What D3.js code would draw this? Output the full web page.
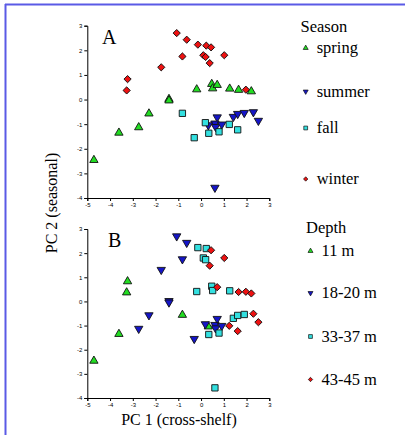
<!DOCTYPE html>
<html>
<head>
<meta charset="utf-8">
<script src="https://cdn.jsdelivr.net/npm/d3@7"></script>
<style>
	body { margin: 0; background: #fff; }
	svg { display: block; }
	.tick text { font-family: "Liberation Sans", Arial, sans-serif; font-size: 6px; fill: #000; }
	.lbl { font-family: "Liberation Serif", "Times New Roman", serif; fill: #000; }
</style>
</head>
<body>
<svg id="chart" width="405" height="435"></svg>
<script>
	'use strict';

	// categories
	var seasons = ['spring', 'summer', 'fall', 'winter'];
	var depths = ['11 m', '18-20 m', '33-37 m', '43-45 m'];
	var xTicks = [-5, -4, -3, -2, -1, 0, 1, 2, 3];
	var yTicks = [-4, -3, -2, -1, 0, 1, 2, 3];

	// PCA scores per sample (same samples in both panels)
	var pc1 = [
		-1.07, -0.63, -0.14, 0.23, 0.44, -0.82, 0.10, 0.20, 0.38, 1.02, -1.75, -3.23, -3.27, 1.97,
		-4.71, -3.61, -2.74, -2.29, -1.41, -1.41, -0.19, 0.47, 0.51, 0.71, 1.26, 1.65, 2.21,
		0.61, 0.71, 0.61, 0.64, 0.91, 0.32, 1.42, 1.61, 1.90, 2.30, 2.52,
		-0.82, -0.30, 0.19, 0.34, 0.79, 1.24, 1.61
	];
	var pc2 = [
		2.70, 2.43, 2.23, 2.19, 2.12, 1.75, 1.80, 1.73, 1.48, 1.80, 1.31, 0.83, 0.37, 0.40,
		-2.46, -1.35, -1.13, -0.57, 0.02, -0.04, 0.41, 0.63, 0.45, 0.59, 0.44, 0.39, 0.33,
		-3.58, -0.72, -0.97, -1.11, -1.01, -1.04, -0.70, -0.58, -0.54, -0.51, -0.86,
		-0.56, -1.55, -0.94, -1.37, -1.31, -1.01, -1.23
	];
	// index into seasons / depths
	var seasonOf = [
		3, 3, 3, 3, 3, 3, 3, 3, 3, 3, 3, 3, 3, 3,
		0, 0, 0, 0, 0, 0, 0, 0, 0, 0, 0, 0, 0,
		1, 1, 1, 1, 1, 1, 1, 1, 1, 1, 1,
		2, 2, 2, 2, 2, 2, 2
	];
	var depthOf = [
		1, 1, 2, 2, 3, 1, 2, 2, 3, 3, 1, 0, 0, 3,
		0, 0, 1, 1, 1, 1, 2, 2, 2, 3, 2, 3, 3,
		2, 1, 1, 1, 1, 0, 2, 2, 2, 3, 3,
		0, 1, 1, 2, 2, 3, 3
	];

	var colors = ['#22dd22', '#1515c8', '#33e0e0', '#ee1111'];

	var svg = d3.select('#chart');

	// frame (top and left edge only)
	svg.append('line').attr('x1', 5).attr('x2', 405).attr('y1', 4.5).attr('y2', 4.5)
		.attr('stroke', '#5a5ae6').attr('stroke-width', 2);
	svg.append('line').attr('x1', 5.5).attr('x2', 5.5).attr('y1', 4).attr('y2', 435)
		.attr('stroke', '#5a5ae6').attr('stroke-width', 2);

	var data = pc1.map(function(v, i) {
		return {x: v, y: pc2[i], season: seasonOf[i], depth: depthOf[i]};
	});

	function markerPath(k, s) {
		if (k === 0 || k === 1) return d3.symbol().type(d3.symbolTriangle).size(30 * s * s)();
		if (k === 2) return d3.symbol().type(d3.symbolSquare).size(40 * s * s)();
		return d3.symbol().type(d3.symbolSquare).size(26 * s * s)();
	}
	function markerRot(k) {
		return k === 1 ? ' rotate(180)' : (k === 3 ? ' rotate(45)' : '');
	}
	var fmt = function(d) { return String(d); };

	function drawPanel(opts) {
		var x = d3.scaleLinear().domain([-5, 3]).range([87.3, 269.3]);
		var y = d3.scaleLinear().domain([-4, 3]).range([opts.bottom, opts.top]);

		var g = svg.append('g');

		g.append('g')
			.attr('transform', 'translate(0,' + opts.bottom + ')')
			.call(d3.axisBottom(x).tickValues(xTicks).tickFormat(fmt).tickSize(3).tickPadding(2))
			.call(function(a) { a.select('.domain').attr('stroke', '#000'); });

		g.append('g')
			.attr('transform', 'translate(87.3,0)')
			.call(d3.axisLeft(y).tickValues(yTicks).tickFormat(fmt).tickSize(3).tickPadding(2))
			.call(function(a) { a.select('.domain').attr('stroke', '#000'); });

		g.append('text').attr('class', 'lbl')
			.attr('x', opts.letterX).attr('y', y(3) + 18)
			.style('font-size', '20px')
			.text(opts.letter);

		g.selectAll('path.pt')
			.data(data)
			.enter().append('path')
			.attr('class', 'pt')
			.attr('d', function(d) { return markerPath(d[opts.key], 1); })
			.attr('transform', function(d) {
				return 'translate(' + x(d.x) + ',' + y(d.y) + ')' + markerRot(d[opts.key]);
			})
			.attr('fill', function(d) { return colors[d[opts.key]]; })
			.attr('stroke', '#111')
			.attr('stroke-width', 0.9);

		// legend
		var lg = svg.append('g');
		lg.append('text').attr('class', 'lbl')
			.attr('x', opts.legX).attr('y', opts.legTitleY)
			.style('font-size', '16.5px')
			.text(opts.title);
		opts.names.forEach(function(name, k) {
			var by = opts.legY[k];
			lg.append('path')
				.attr('d', markerPath(k, 0.6))
				.attr('transform', 'translate(' + opts.markX + ',' + (by - 5) + ')' + markerRot(k))
				.attr('fill', colors[k])
				.attr('stroke', '#111')
				.attr('stroke-width', 0.7);
			lg.append('text').attr('class', 'lbl')
				.attr('x', opts.markX + 11).attr('y', by)
				.style('font-size', '16.5px')
				.text(name);
		});
	}

	drawPanel({
		top: 25.7, bottom: 198, letter: 'A', letterX: 102, key: 'season',
		title: 'Season', names: seasons, legX: 300.5, legTitleY: 32,
		markX: 305.7, legY: [53, 96.5, 133, 184]
	});
	drawPanel({
		top: 229, bottom: 398, letter: 'B', letterX: 108, key: 'depth',
		title: 'Depth', names: depths, legX: 306, legTitleY: 233,
		markX: 310.5, legY: [256, 298, 341.5, 384.5]
	});

	// axis titles
	svg.append('text').attr('class', 'lbl')
		.attr('transform', 'translate(57,203) rotate(-90)')
		.attr('text-anchor', 'middle')
		.style('font-size', '16px')
		.text('PC 2 (seasonal)');

	svg.append('text').attr('class', 'lbl')
		.attr('x', 179).attr('y', 425)
		.attr('text-anchor', 'middle')
		.style('font-size', '16px')
		.text('PC 1 (cross-shelf)');
</script>
</body>
</html>
